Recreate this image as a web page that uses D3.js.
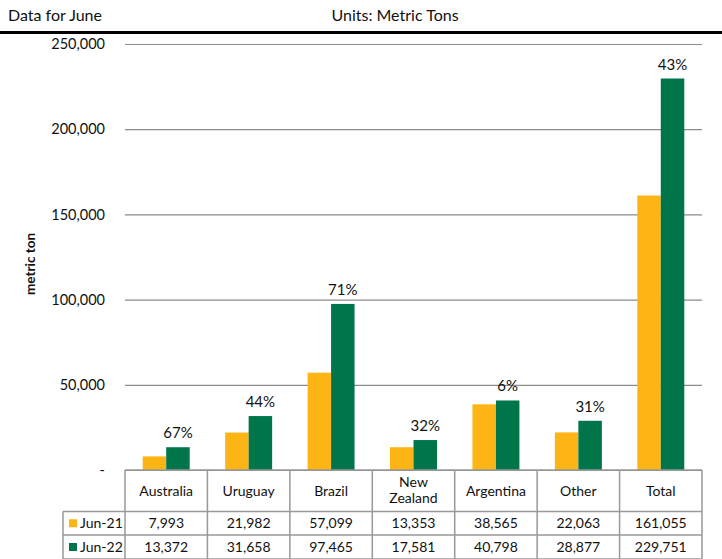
<!DOCTYPE html>
<html>
<head>
<meta charset="utf-8">
<script src="https://cdn.jsdelivr.net/npm/d3@7"></script>
<style>
  body { margin: 0; background: #fff; }
  svg { display: block; font-family: Lato, "Noto Sans", sans-serif; }
</style>
</head>
<body>
<div id="chart"></div>
<script>
// chart values
var categories = ["Australia", "Uruguay", "Brazil", "New Zealand", "Argentina", "Other", "Total"];
var seriesNames = ["Jun-21", "Jun-22"];
var jun21 = [7993, 21982, 57099, 13353, 38565, 22063, 161055];
var jun22 = [13372, 31658, 97465, 17581, 40798, 28877, 229751];
var changeLabels = ["67%", "44%", "71%", "32%", "6%", "31%", "43%"];
var yTicks = [0, 50000, 100000, 150000, 200000, 250000];

var width = 722, height = 559;
var colors = ["#FDB515", "#00754A"];

var svg = d3.select("#chart")
  .append("svg")
  .attr("width", width)
  .attr("height", height);

// header
svg.append("text")
  .attr("x", 8).attr("y", 21)
  .style("font-size", "16px").style("fill", "#111")
  .text("Data for June");
svg.append("text")
  .attr("x", 395).attr("y", 21)
  .attr("text-anchor", "middle")
  .style("font-size", "16px").style("fill", "#111")
  .text("Units: Metric Tons");
svg.append("line")
  .attr("x1", 0).attr("x2", width)
  .attr("y1", 32.5).attr("y2", 32.5)
  .attr("stroke", "#000").attr("stroke-width", 3);

// scales
var x = d3.scaleBand()
  .domain(categories)
  .range([125, 702]);

var y = d3.scaleLinear()
  .domain([0, 250000])
  .range([470, 44]);

var barW = x.bandwidth() * 0.285;

// gridlines + y labels
svg.append("g")
  .attr("transform", "translate(125,0)")
  .call(d3.axisLeft(y)
    .tickValues(yTicks)
    .tickSize(-577)
    .tickPadding(20)
    .tickFormat(function(d) { return d === 0 ? "-" : d3.format(",")(d); }))
  .call(function(g) { g.select(".domain").remove(); })
  .call(function(g) {
    g.selectAll(".tick line").attr("stroke", "#8c8c8c").attr("stroke-width", 1.2);
    g.selectAll(".tick text")
      .style("font-size", "14.5px")
      .style("fill", "#111")
      .style("font-family", "Lato, 'Noto Sans', sans-serif");
  });

svg.append("text")
  .attr("transform", "translate(35,264) rotate(-90)")
  .attr("text-anchor", "middle")
  .style("font-size", "13.5px").style("font-weight", "bold").style("fill", "#111")
  .text("metric ton");

// bars
var series = [jun21, jun22];
series.forEach(function(vals, s) {
  svg.append("g").selectAll("rect")
    .data(vals)
    .enter()
    .append("rect")
      .attr("x", function(d, i) { return x(categories[i]) + x.bandwidth() / 2 - barW + s * barW; })
      .attr("y", function(d) { return y(d); })
      .attr("width", barW)
      .attr("height", function(d) { return y(0) - y(d); })
      .attr("fill", colors[s]);
});

// change labels above green bars
svg.append("g").selectAll("text")
  .data(jun22)
  .enter()
  .append("text")
    .attr("x", function(d, i) { return x(categories[i]) + x.bandwidth() / 2 + barW / 2; })
    .attr("y", function(d) { return y(d) - 9; })
    .attr("text-anchor", "middle")
    .style("font-size", "15px").style("fill", "#111")
    .text(function(d, i) { return changeLabels[i]; });

// data table
var rowTop = 470, row1 = 511.5, row2 = 535, rowBot = 559;
var legendLeft = 63;
var table = svg.append("g")
  .attr("stroke", "#999")
  .attr("stroke-width", 1.5)
  .attr("fill", "none");

table.append("line").attr("x1", 125).attr("x2", 702).attr("y1", rowTop).attr("y2", rowTop);
[row1, row2, rowBot].forEach(function(yy) {
  table.append("line").attr("x1", legendLeft).attr("x2", 702).attr("y1", yy).attr("y2", yy);
});
categories.concat([null]).forEach(function(c, i) {
  var xx = c === null ? 702 : x(c);
  table.append("line").attr("x1", xx).attr("x2", xx).attr("y1", rowTop).attr("y2", rowBot);
});
table.append("line").attr("x1", legendLeft).attr("x2", legendLeft).attr("y1", row1).attr("y2", rowBot);

// category names
var catG = svg.append("g");
categories.forEach(function(c) {
  var words = c === "New Zealand" ? ["New", "Zealand"] : [c];
  var t = catG.append("text")
    .attr("x", x(c) + x.bandwidth() / 2)
    .attr("text-anchor", "middle")
    .style("font-size", "14px").style("fill", "#111");
  words.forEach(function(w, k) {
    t.append("tspan")
      .attr("x", x(c) + x.bandwidth() / 2)
      .attr("y", words.length === 1 ? 496 : 487 + k * 16)
      .text(w);
  });
});

// legend rows + values
var rowsY = [row1, row2];
series.forEach(function(vals, s) {
  var cy = (rowsY[s] + (s === 0 ? row2 : rowBot)) / 2;
  svg.append("rect")
    .attr("x", 69).attr("y", cy - 4)
    .attr("width", 8).attr("height", 8)
    .attr("fill", colors[s]);
  svg.append("text")
    .attr("x", 80).attr("y", cy + 5)
    .style("font-size", "14px").style("fill", "#111")
    .text(seriesNames[s]);
  svg.append("g").selectAll("text")
    .data(vals)
    .enter()
    .append("text")
      .attr("x", function(d, i) { return x(categories[i]) + x.bandwidth() / 2; })
      .attr("y", cy + 5)
      .attr("text-anchor", "middle")
      .style("font-size", "14px").style("fill", "#111")
      .text(function(d) { return d3.format(",")(d); });
});
</script>
</body>
</html>
